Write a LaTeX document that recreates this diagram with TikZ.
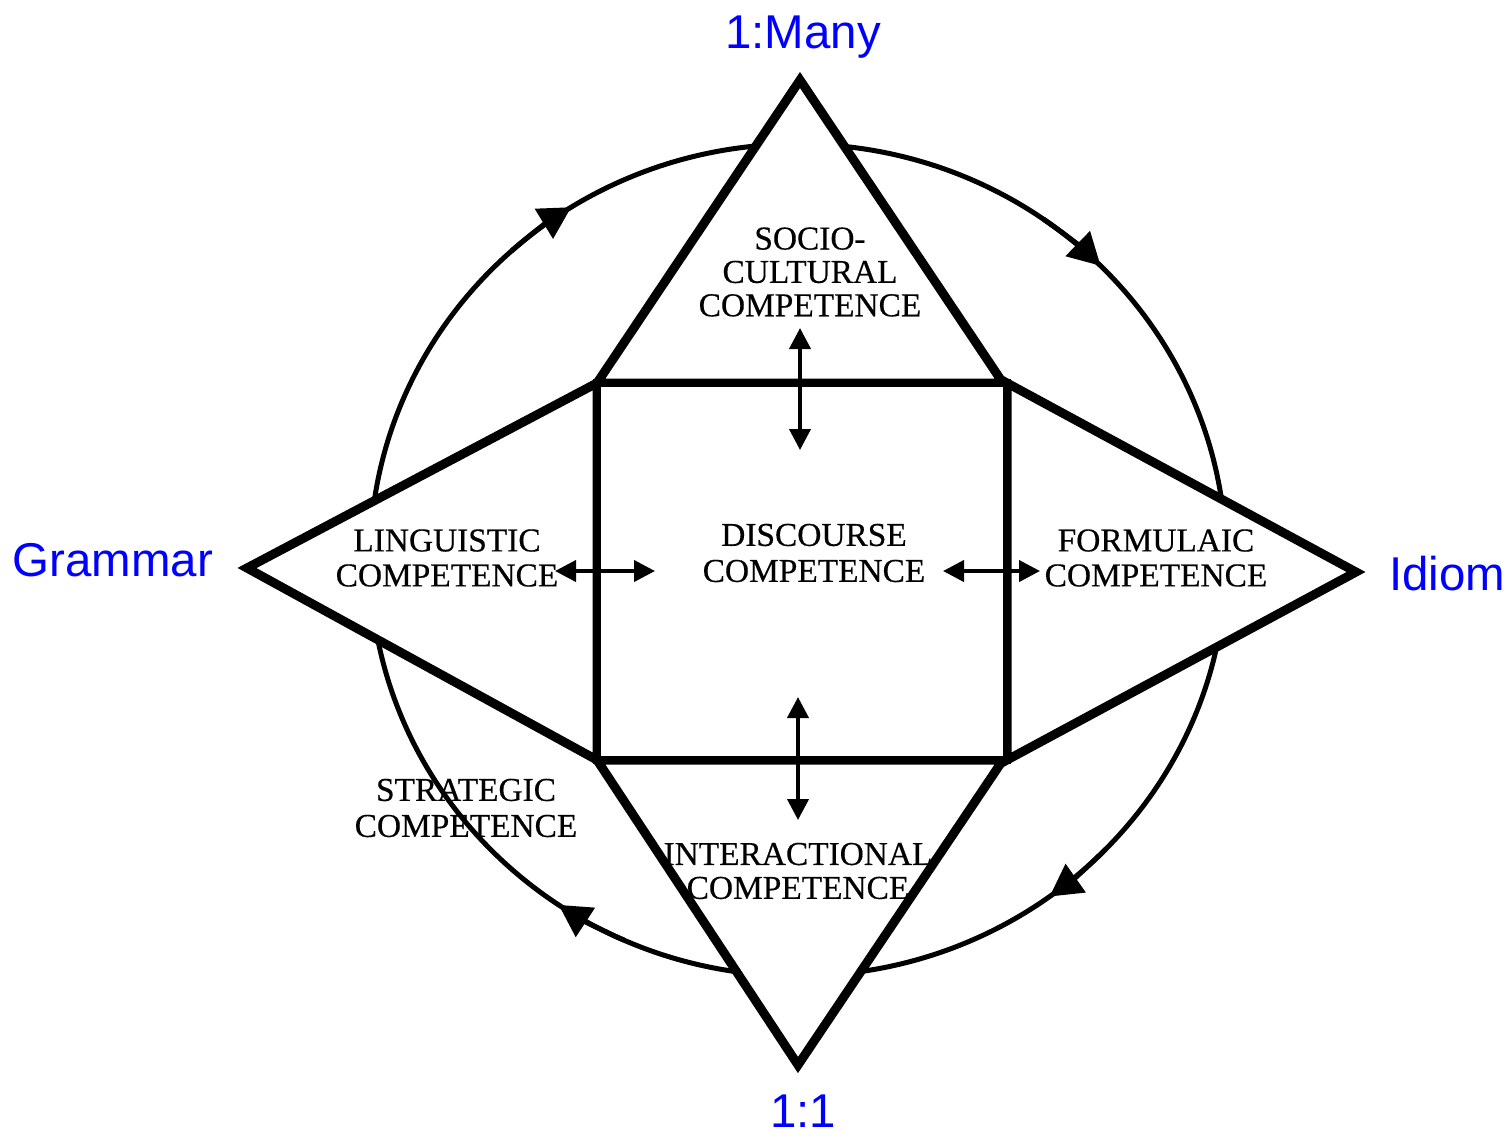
\documentclass[tikz,border=0pt]{standalone}
\usepackage{fontspec}
\setmainfont{Liberation Serif}
\newfontfamily\compfont[FakeBold=0.4]{Liberation Serif}
\newfontfamily\labelfont{Liberation Sans}
\usetikzlibrary{arrows.meta}
\begin{document}
\begin{tikzpicture}[x=0.02cm,y=-0.02cm,
  tri/.style={draw=black, fill=white, line width=0.18cm, line join=miter},
  box/.style={draw=black, fill=white, line width=0.16cm},
  ring/.style={draw=black, line width=0.1cm},
  flow/.style={draw=black, line width=0.1cm, -{Triangle[length=0.64cm,width=0.68cm]}},
  link/.style={draw=black, line width=0.08cm, {Triangle[length=0.42cm,width=0.42cm]}-{Triangle[length=0.42cm,width=0.42cm]}},
  comp/.style={align=center, text=black, inner sep=0pt},
  pole/.style={font=\labelfont\fontsize{27}{30}\selectfont, text=blue, inner sep=0pt, anchor=base}
]
\useasboundingbox (0,0) rectangle (1511,1137);
\fill[white] (0,0) rectangle (1511,1137);

% cycle ellipse
\coordinate (c) at (798,560);
\draw[ring] (c) ellipse [x radius=428, y radius=416];
\draw[flow] (c) ++(228:428 and 416) arc[start angle=228, end angle=238, x radius=428, y radius=416];
\draw[flow] (c) ++(305:428 and 416) arc[start angle=305, end angle=315, x radius=428, y radius=416];
\draw[flow] (c) ++(44:428 and 416) arc[start angle=44, end angle=54, x radius=428, y radius=416];
\draw[flow] (c) ++(114:428 and 416) arc[start angle=114, end angle=124, x radius=428, y radius=416];

% square corners and apexes
\coordinate (tl) at (597,383);
\coordinate (tr) at (1007,383);
\coordinate (br) at (1007,760);
\coordinate (bl) at (597,760);
\coordinate (apexT) at (800,80);
\coordinate (apexL) at (247,568);
\coordinate (apexR) at (1356,572);
\coordinate (apexB) at (798,1065);

\draw[tri] (apexT) -- (1003,383) -- (tl) -- cycle;
\draw[tri] (apexL) -- (tl) -- (bl) -- cycle;
\draw[tri] (apexR) -- (tr) -- (br) -- cycle;
\draw[tri] (apexB) -- (1003,760) -- (bl) -- cycle;
\draw[box] (tl) rectangle (br);

% double arrows
\coordinate (u1) at (800,328); \coordinate (u2) at (800,450);
\coordinate (d1) at (798,697); \coordinate (d2) at (798,820);
\coordinate (l1) at (555,571); \coordinate (l2) at (655,571);
\coordinate (r1) at (943,571); \coordinate (r2) at (1040,571);
\draw[link] (u1) -- (u2);
\draw[link] (d1) -- (d2);
\draw[link] (l1) -- (l2);
\draw[link] (r1) -- (r2);

% competence labels
\node[comp, font=\compfont\fontsize{19}{19.0}\selectfont] (socio) at (810,272) {SOCIO-\\CULTURAL\\COMPETENCE};
\node[comp, font=\compfont\fontsize{19}{19.9}\selectfont] (ling) at (447,558) {LINGUISTIC\\COMPETENCE};
\node[comp, font=\compfont\fontsize{19}{20.5}\selectfont] (disc) at (814,553) {DISCOURSE\\COMPETENCE};
\node[comp, font=\compfont\fontsize{19}{19.9}\selectfont] (form) at (1156,558) {FORMULAIC\\COMPETENCE};
\node[comp, font=\compfont\fontsize{19}{20.5}\selectfont] (strat) at (466,808) {STRATEGIC\\COMPETENCE};
\node[comp, font=\compfont\fontsize{19}{19.3}\selectfont] (inter) at (798,871) {INTERACTIONAL\\COMPETENCE};

% pole labels
\node[pole] (many) at (803,48) {1:Many};
\node[pole] (gram) at (113,576) {Grammar};
\node[pole] (idiom) at (1447,590) {Idiom};
\node[pole] (one) at (803,1127) {1:1};
\end{tikzpicture}
\end{document}
